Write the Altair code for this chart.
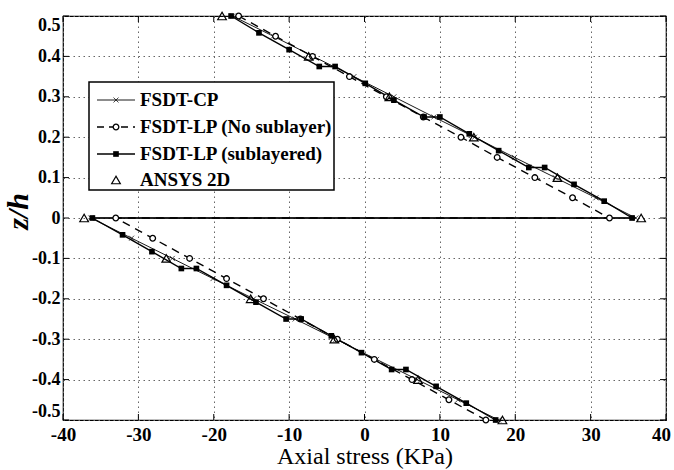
import altair as alt
import pandas as pd

# ---------------- data ----------------
x_ticks = [-40, -30, -20, -10, 0, 10, 20, 30, 40]
y_ticks = [-0.5, -0.4, -0.3, -0.2, -0.1, 0.0, 0.1, 0.2, 0.3, 0.4, 0.5]

# FSDT-CP (thin solid line, x markers)
cp_z = [0.5, 0.45, 0.4, 0.35, 0.3, 0.25, 0.2, 0.15, 0.1, 0.05, 0.0,
        0.0, -0.05, -0.1, -0.15, -0.2, -0.25, -0.3, -0.35, -0.4, -0.45, -0.5]
cp_x = [-17.5, -12.1, -6.8, -1.4, 3.9, 9.2, 14.6, 19.9, 25.3, 30.7, 36.0,
        -36.3, -30.9, -25.5, -20.1, -14.7, -9.2, -3.8, 1.6, 7.0, 12.4, 17.8]

# FSDT-LP (No sublayer) (dashed line, open circles)
lp_z = [0.5, 0.45, 0.4, 0.35, 0.3, 0.25, 0.2, 0.15, 0.1, 0.05, 0.0,
        0.0, -0.05, -0.1, -0.15, -0.2, -0.25, -0.3, -0.35, -0.4, -0.45, -0.5]
lp_x = [-16.7, -11.8, -6.9, -2.0, 2.9, 7.8, 12.8, 17.6, 22.6, 27.6, 32.5,
        -33.0, -28.1, -23.2, -18.3, -13.4, -8.5, -3.6, 1.3, 6.3, 11.2, 16.1]

# FSDT-LP (sublayered) (solid line, filled squares)
sl_z = [0.5, 0.4583, 0.4167, 0.375, 0.375, 0.3333, 0.2917, 0.25, 0.25, 0.2083,
        0.1667, 0.125, 0.125, 0.0833, 0.0417, 0.0,
        0.0, -0.0417, -0.0833, -0.125, -0.125, -0.1667, -0.2083, -0.25, -0.25,
        -0.2917, -0.3333, -0.375, -0.375, -0.4167, -0.4583, -0.5]
sl_x = [-17.7, -14.0, -10.0, -6.0, -3.9, 0.1, 3.9, 7.9, 10.0, 13.9,
        17.8, 21.8, 23.9, 27.8, 31.8, 35.5,
        -36.1, -32.1, -28.2, -24.3, -22.3, -18.3, -14.4, -10.4, -8.4,
        -4.4, -0.4, 3.6, 5.5, 9.5, 13.5, 17.4]

# ANSYS 2D (open triangles only)
an_z = [0.5, 0.4, 0.3, 0.2, 0.1, 0.0, 0.0, -0.1, -0.2, -0.3, -0.4, -0.5]
an_x = [-18.9, -7.4, 3.3, 14.5, 25.6, 36.7, -37.2, -26.3, -15.1, -4.0, 7.1, 18.3]

legend_labels = ["FSDT-CP", "FSDT-LP (No sublayer)", "FSDT-LP (sublayered)", "ANSYS 2D"]

# ---------------- layout ----------------
W, H = 603, 404
FONT = "'Liberation Serif', 'Times New Roman', Times, serif"


def frame(xs, zs):
    return pd.DataFrame({"x": xs, "z": zs, "i": list(range(len(xs)))})


df_cp, df_lp, df_sl, df_an = frame(cp_x, cp_z), frame(lp_x, lp_z), frame(sl_x, sl_z), frame(an_x, an_z)

xscale = alt.Scale(domain=[-40, 40], nice=False, zero=False)
yscale = alt.Scale(domain=[-0.5, 0.5], nice=False, zero=False)

xaxis = alt.Axis(
    values=x_ticks, title="Axial stress (KPa)", grid=True, gridDash=[1.5, 3.5],
    gridColor="#666", gridWidth=1, tickSize=0, domain=False, labelFlush=False,
    labelFont=FONT, labelFontSize=19, labelFontWeight="bold", labelColor="black",
    labelPadding=5, labelOverlap=False,
    labelOffset={"condition": {"test": "datum.value == 40", "value": -5}, "value": 0},
    labelExpr="(datum.value < 0 ? '-' : '') + format(abs(datum.value), 'd')",
    titleFont=FONT, titleFontSize=24, titleFontWeight="normal", titleColor="black",
    titlePadding=0,
)
yaxis = alt.Axis(
    values=y_ticks, title="z/h", grid=True, gridDash=[1.5, 3.5],
    gridColor="#666", gridWidth=1, tickSize=0, domain=False, labelFlush=True,
    labelFont=FONT, labelFontSize=18, labelFontWeight="bold", labelColor="black",
    labelPadding=3, labelOverlap=False,
    labelExpr="datum.value == 0 ? '0' : ((datum.value < 0 ? '-' : '') + format(abs(datum.value), '.1f'))",
    titleFont=FONT, titleFontSize=30, titleFontWeight="bold", titleFontStyle="italic",
    titleColor="black", titleBaseline="middle", titleX=-45, titleY=195,
)

X = alt.X("x:Q", scale=xscale, axis=xaxis)
Y = alt.Y("z:Q", scale=yscale, axis=yaxis)

X_PATH = "M-1,-1L1,1M-1,1L1,-1"

cp_line = alt.Chart(df_cp).mark_line(color="black", strokeWidth=0.9).encode(x=X, y=Y, order="i:Q")
lp_line = alt.Chart(df_lp).mark_line(color="black", strokeWidth=1.4, strokeDash=[8, 6]).encode(
    x=alt.X("x:Q", scale=xscale), y=alt.Y("z:Q", scale=yscale), order="i:Q")
sl_line = alt.Chart(df_sl).mark_line(color="black", strokeWidth=1.4).encode(
    x=alt.X("x:Q", scale=xscale), y=alt.Y("z:Q", scale=yscale), order="i:Q")

cp_pts = alt.Chart(df_cp).mark_point(shape=X_PATH, size=25, color="black", strokeWidth=1, filled=False).encode(
    x=alt.X("x:Q", scale=xscale), y=alt.Y("z:Q", scale=yscale))
lp_pts = alt.Chart(df_lp).mark_point(shape="circle", size=32, stroke="black", fill="white", fillOpacity=1,
                                     strokeWidth=1.3, opacity=1).encode(
    x=alt.X("x:Q", scale=xscale), y=alt.Y("z:Q", scale=yscale))
sl_pts = alt.Chart(df_sl).mark_point(shape="square", size=32, color="black", filled=True, opacity=1).encode(
    x=alt.X("x:Q", scale=xscale), y=alt.Y("z:Q", scale=yscale))
an_pts = alt.Chart(df_an).mark_point(shape="triangle-up", size=75, color="black", strokeWidth=1.2,
                                     filled=False, opacity=1).encode(
    x=alt.X("x:Q", scale=xscale), y=alt.Y("z:Q", scale=yscale))

# inward tick marks on all four sides
dfx = pd.DataFrame({"x": x_ticks})
dfy = pd.DataFrame({"z": y_ticks})
tick_b = alt.Chart(dfx).mark_rule(color="black", strokeWidth=1).encode(
    x=alt.X("x:Q", scale=xscale), y=alt.value(H), y2=alt.value(H - 6))
tick_t = alt.Chart(dfx).mark_rule(color="black", strokeWidth=1).encode(
    x=alt.X("x:Q", scale=xscale), y=alt.value(0), y2=alt.value(6))
tick_l = alt.Chart(dfy).mark_rule(color="black", strokeWidth=1).encode(
    y=alt.Y("z:Q", scale=yscale), x=alt.value(0), x2=alt.value(6))
tick_r = alt.Chart(dfy).mark_rule(color="black", strokeWidth=1).encode(
    y=alt.Y("z:Q", scale=yscale), x=alt.value(W), x2=alt.value(W - 6))

# manual legend box
LX0, LX1, LY0, LY1 = 26, 271, 66, 174
row_y = [84, 111, 138, 164]
sym_x0, sym_x1, sym_xm, txt_x = 34, 72, 53, 77

one = pd.DataFrame({"a": [0]})
leg_box = alt.Chart(one).mark_rect(fill="white", stroke="black", strokeWidth=1.5).encode(
    x=alt.value(LX0), x2=alt.value(LX1), y=alt.value(LY0), y2=alt.value(LY1))

leg_layers = [leg_box]
line_styles = [dict(strokeWidth=0.9), dict(strokeWidth=1.4, strokeDash=[7, 5]), dict(strokeWidth=1.4), None]
marker_styles = [
    dict(shape=X_PATH, size=25, color="black", strokeWidth=1, filled=False),
    dict(shape="circle", size=32, stroke="black", fill="white", fillOpacity=1, strokeWidth=1.3, opacity=1),
    dict(shape="square", size=32, color="black", filled=True, opacity=1),
    dict(shape="triangle-up", size=75, color="black", strokeWidth=1.2, filled=False, opacity=1),
]
for k, lab in enumerate(legend_labels):
    ry = row_y[k]
    if line_styles[k] is not None:
        leg_layers.append(alt.Chart(one).mark_rule(color="black", **line_styles[k]).encode(
            x=alt.value(sym_x0), x2=alt.value(sym_x1), y=alt.value(ry)))
    leg_layers.append(alt.Chart(one).mark_point(**marker_styles[k]).encode(
        x=alt.value(sym_xm), y=alt.value(ry)))
    leg_layers.append(alt.Chart(pd.DataFrame({"t": [lab]})).mark_text(
        font=FONT, fontSize=19, fontWeight="bold", align="left", baseline="middle", color="black").encode(
        x=alt.value(txt_x), y=alt.value(ry), text="t:N"))

chart = alt.layer(
    cp_line, lp_line, sl_line, tick_b, tick_t, tick_l, tick_r,
    cp_pts, lp_pts, sl_pts, an_pts, *leg_layers
).properties(
    width=W, height=H,
    padding={"left": 63, "top": 16, "right": 8, "bottom": 50},
    autosize=alt.AutoSizeParams(type="none"),
    background="white",
).configure_view(stroke="black", strokeWidth=1.2)

chart.save("out.html", embed_options={"renderer": "svg", "actions": False})
